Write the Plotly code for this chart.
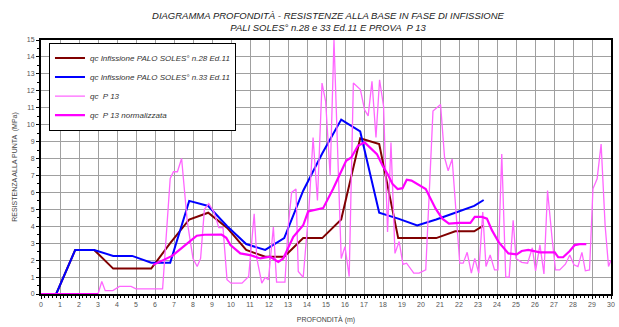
import plotly.graph_objects as go

# ---- data ----
depth_28 = [0, 0.8, 1.8, 2.8, 3.8, 4.8, 5.8, 6.8, 7.8, 8.8, 9.8, 10.8, 11.8, 12.8,
            13.8, 14.8, 15.8, 16.8, 17.8, 18.8, 19.8, 20.8, 21.8, 22.8, 23.3]
qc_28 = [0, 0, 2.6, 2.6, 1.5, 1.5, 1.5, 3.0, 4.4, 4.8, 3.9, 2.6, 2.2, 2.2,
         3.3, 3.3, 4.4, 9.2, 8.85, 3.3, 3.3, 3.3, 3.7, 3.7, 4.05]

depth_33 = [0, 0.8, 1.8, 2.8, 3.8, 4.8, 5.8, 6.8, 7.8, 8.8, 9.8, 10.8, 11.8, 12.8,
            13.8, 14.8, 15.8, 16.8, 17.8, 18.8, 19.8, 20.8, 21.8, 22.8, 23.3]
qc_33 = [0, 0, 2.6, 2.6, 2.25, 2.25, 1.85, 1.85, 5.5, 5.2, 4.0, 2.95, 2.6, 3.3,
         6.1, 8.3, 10.3, 9.6, 4.8, 4.45, 4.05, 4.4, 4.8, 5.2, 5.55]

depth_p13 = [0, 3.0, 3.2, 3.38, 3.78, 4.13, 4.74, 5.0, 6.4, 6.8, 6.97, 7.18, 7.4, 7.7,
             8.0, 8.22, 8.4, 8.6, 8.83, 9.1, 9.36, 9.58, 9.79, 10.0, 10.58, 10.93,
             11.22, 11.36, 11.62, 11.8, 11.97, 12.23, 12.4, 12.84, 13.0, 13.19, 13.42,
             13.54, 13.8, 14.1, 14.32, 14.55, 14.79, 14.98, 15.22, 15.42, 15.8, 16.0,
             16.22, 16.44, 16.81, 17.03, 17.22, 17.42, 17.63, 17.82, 18.03, 18.24,
             18.42, 18.63, 18.85, 19.05, 19.24, 19.62, 19.9, 20.25, 20.63, 21.03,
             21.24, 21.43, 21.64, 22.04, 22.22, 22.43, 22.65, 22.83, 23.04, 23.25,
             23.42, 23.64, 23.87, 24.05, 24.25, 24.46, 24.64, 24.85, 25.0, 25.3,
             25.61, 25.86, 26.03, 26.26, 26.47, 26.66, 26.9, 27.08, 27.3, 27.6,
             27.83, 28.05, 28.26, 28.47, 28.65, 28.87, 29.05, 29.27, 29.48, 29.69,
             29.87, 30.0]
qc_p13 = [0, 0, 0.74, 0.2, 0.2, 0.45, 0.45, 0.3, 0.3, 6.83, 7.22, 7.22, 8.0, 4.26,
          2.1, 1.62, 2.1, 5.0, 5.33, 4.84, 3.92, 3.92, 0.84, 0.64, 0.64, 1.03,
          4.74, 2.1, 0.64, 0.98, 0.84, 3.96, 0.7, 0.7, 3.87, 6.0, 6.2,
          1.33, 0.98, 5.0, 9.24, 5.52, 12.46, 11.38, 7.0, 15.0, 2.1, 2.8,
          1.03, 12.46, 12.07, 10.88, 10.52, 12.56, 9.24, 12.65, 11.09, 3.66,
          8.95, 2.4, 3.1, 1.75, 1.82, 1.23, 1.23, 1.42, 10.8, 11.19,
          8.06, 7.28, 7.97, 1.82, 1.82, 2.46, 1.23, 2.1, 1.23, 4.84,
          1.62, 2.3, 1.42, 1.42, 8.26, 1.0, 1.0, 4.35, 2.1, 1.87,
          1.82, 2.73, 1.37, 2.9, 1.19, 6.11, 3.28, 1.42, 1.42, 1.76,
          2.3, 1.72, 1.62, 2.46, 1.37, 1.42, 6.21, 6.8, 8.85, 4.06,
          1.62, 2.0]

depth_norm = [0, 3.0, 5.9, 6.9, 7.8, 8.2, 8.6, 9.5, 9.75, 9.97, 10.49, 11.0, 11.54, 12.06,
              12.49, 12.75, 13.28, 13.8, 14.06, 14.5, 14.85, 15.37, 15.8, 16.06,
              16.33, 16.68, 17.03, 17.29, 17.68, 17.98, 18.24, 18.5, 18.77, 19.03,
              19.25, 19.5, 19.81, 20.25, 20.42, 20.77, 21.12, 21.47, 21.99, 22.6,
              22.83, 23.21, 23.47, 23.73, 24.08, 24.6, 25.04, 25.3, 25.65, 26.0,
              26.26, 27.04, 27.22, 27.48, 27.83, 28.09, 28.35, 28.7]
qc_norm = [0, 0, 1.72, 2.25, 3.08, 3.44, 3.5, 3.51, 3.32, 2.89, 2.4, 2.3, 2.1, 2.2,
           1.9, 2.1, 3.38, 4.06, 4.88, 4.98, 5.07, 6.2, 7.19, 7.87,
           8.06, 8.75, 8.95, 8.65, 8.26, 7.57, 7.09, 6.5, 6.2, 6.25,
           6.75, 6.7, 6.5, 6.2, 5.82, 5.04, 4.45, 4.16, 4.2, 4.2,
           4.55, 4.55, 4.45, 3.77, 3.08, 2.4, 2.34, 2.54, 2.6, 2.54,
           2.46, 2.46, 2.17, 2.17, 2.54, 2.89, 2.95, 2.95]
# the normalised curve is not drawn between 3 m and 5.9 m
norm_gap_after = 3.0

names = ["qc Infissione PALO SOLES° n.28 Ed.11",
         "qc Infissione PALO SOLES° n.33 Ed.11",
         "qc  P 13",
         "qc  P 13 normalizzata"]

title_lines = ["DIAGRAMMA PROFONDITÀ - RESISTENZE ALLA BASE IN FASE DI INFISSIONE",
               "PALI SOLES° n.28 e 33 Ed.11 E PROVA  P 13"]
x_title = "PROFONDITÀ (m)"
y_title = "RESISTENZA ALLA PUNTA  (MPa)"

FONT = "Liberation Sans, Arial, sans-serif"

# insert a gap (None) in the normalised series
nx, ny = [], []
for d, v in zip(depth_norm, qc_norm):
    nx.append(d)
    ny.append(v)
    if d == norm_gap_after:
        nx.append(None)
        ny.append(None)

fig = go.Figure()
fig.add_trace(go.Scatter(x=depth_28, y=qc_28, mode="lines", name=names[0],
                         line=dict(color="#800000", width=2)))
fig.add_trace(go.Scatter(x=depth_33, y=qc_33, mode="lines", name=names[1],
                         line=dict(color="#0000FF", width=2)))
fig.add_trace(go.Scatter(x=depth_p13, y=qc_p13, mode="lines", name=names[2],
                         line=dict(color="#FF66FF", width=1.3)))
fig.add_trace(go.Scatter(x=nx, y=ny, mode="lines", name=names[3], connectgaps=False,
                         line=dict(color="#FF00FF", width=2.2)))

axis_common = dict(showgrid=True, gridcolor="#a0a0a0", gridwidth=1,
                   showline=True, linecolor="black", linewidth=2, mirror=True,
                   ticks="outside", ticklen=3, tickcolor="black", tickwidth=1,
                   tickfont=dict(family=FONT, size=7, color="#555555"),
                   zeroline=False, fixedrange=True)

fig.update_xaxes(range=[0, 30], dtick=1, tick0=0,
                 minor=dict(dtick=0.2, ticks="outside", ticklen=2, tickcolor="black", showgrid=False),
                 title=dict(text=x_title, font=dict(family=FONT, size=7, color="#444444"), standoff=10),
                 **axis_common)
fig.update_yaxes(range=[0, 15], dtick=1, tick0=0,
                 minor=dict(dtick=0.5, ticks="outside", ticklen=2, tickcolor="black", showgrid=False),
                 title=dict(text=y_title, font=dict(family=FONT, size=7, color="#444444"), standoff=8),
                 **axis_common)

fig.update_layout(
    width=619, height=327,
    margin=dict(l=41, r=4, t=40, b=31),
    paper_bgcolor="white", plot_bgcolor="white",
    title=dict(text="<br>".join(title_lines), x=(41 + 615) / 2 / 619, xanchor="center",
               y=1 - 19 / 327, yanchor="top",
               font=dict(family=FONT, size=9.5, color="#222222", style="italic")),
    showlegend=True,
    legend=dict(x=0.014, y=0.99, xanchor="left", yanchor="top",
                bgcolor="white", bordercolor="black", borderwidth=1,
                itemwidth=30,
                font=dict(family=FONT, size=8, color="#333333", style="italic")),
)

fig.write_html("out.html", config={"displayModeBar": False},
               post_script="document.body.style.margin='0';document.body.style.padding='0';")
